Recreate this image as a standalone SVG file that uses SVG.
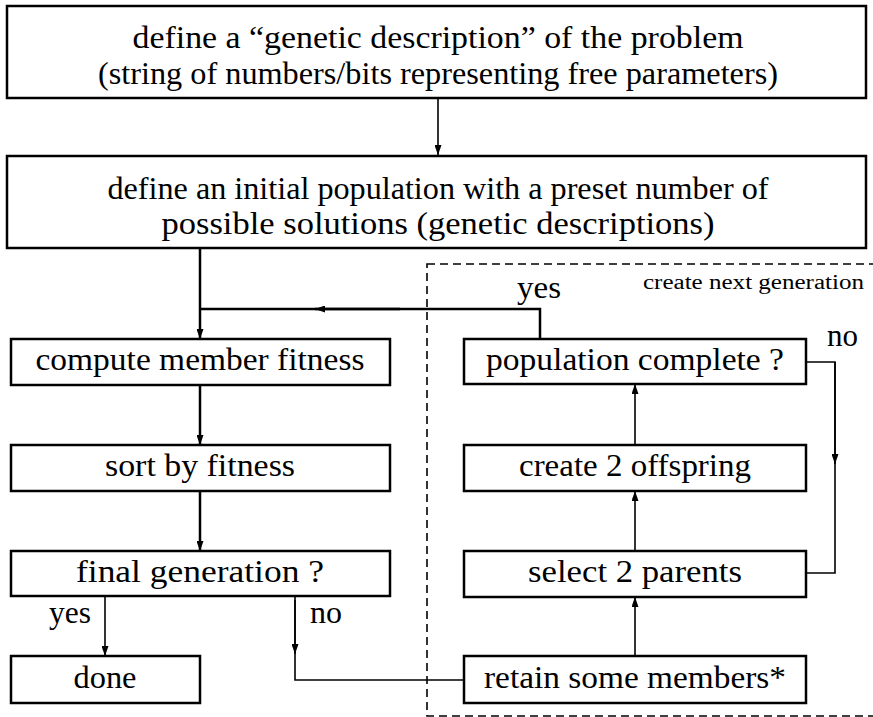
<svg xmlns="http://www.w3.org/2000/svg" width="873" height="717" viewBox="0 0 873 717">
<defs>
<marker id="ah" viewBox="0 0 10 7" refX="10" refY="3.5" markerWidth="10" markerHeight="7" markerUnits="userSpaceOnUse" orient="auto">
<path d="M0,0 L10,3.5 L0,7 z" fill="#000"/>
</marker>
</defs>
<style>
rect.box{fill:#fff;stroke:#000;stroke-width:2.5}
text{font-family:'Liberation Serif','Times New Roman',serif;font-size:31px;fill:#000;text-anchor:middle}
text.lbl{text-anchor:start}
text.small{font-size:20px;text-anchor:start}
.thick{fill:none;stroke:#000;stroke-width:2.5}
.thin{fill:none;stroke:#000;stroke-width:1.6}
.dash{fill:none;stroke:#000;stroke-width:1.6;stroke-dasharray:8 5}
</style>
<g id="region">
<rect class="dash" x="427" y="264" width="460" height="452"/>
<text class="small" x="643" y="289" textLength="221" lengthAdjust="spacingAndGlyphs">create next generation</text>
</g>
<g id="connectors">
<line class="thin" x1="438" y1="98" x2="438" y2="155" marker-end="url(#ah)"/>
<line class="thick" x1="200" y1="248" x2="200" y2="339" marker-end="url(#ah)"/>
<path class="thick" d="M540,339 L540,309 L200,309"/>
<line class="thick" x1="400" y1="309" x2="315" y2="309" marker-end="url(#ah)"/>
<line class="thick" x1="200" y1="385" x2="200" y2="445" marker-end="url(#ah)"/>
<line class="thick" x1="200" y1="491" x2="200" y2="551" marker-end="url(#ah)"/>
<line class="thin" x1="105" y1="596" x2="105" y2="656" marker-end="url(#ah)"/>
<path class="thin" d="M295,596 L295,680 L464,680"/>
<line class="thin" x1="295" y1="600" x2="295" y2="654" marker-end="url(#ah)"/>
<line class="thin" x1="635" y1="656" x2="635" y2="597" marker-end="url(#ah)"/>
<line class="thin" x1="635" y1="551" x2="635" y2="491" marker-end="url(#ah)"/>
<line class="thin" x1="635" y1="445" x2="635" y2="384" marker-end="url(#ah)"/>
<path class="thin" d="M806,362 L835,362 L835,573 L806,573"/>
<line class="thin" x1="835" y1="362" x2="835" y2="464" marker-end="url(#ah)"/>
<text class="lbl" x="517" y="298" textLength="44" lengthAdjust="spacingAndGlyphs">yes</text>
<text class="lbl" x="827" y="346" textLength="31" lengthAdjust="spacingAndGlyphs">no</text>
<text class="lbl" x="49" y="623" textLength="42" lengthAdjust="spacingAndGlyphs">yes</text>
<text class="lbl" x="310" y="623" textLength="32" lengthAdjust="spacingAndGlyphs">no</text>
</g>
<g id="n1">
<rect class="box" x="7" y="6" width="859" height="92"/>
<text x="438" y="48" textLength="611" lengthAdjust="spacingAndGlyphs">define a “genetic description” of the problem</text>
<text x="438" y="84" textLength="680" lengthAdjust="spacingAndGlyphs">(string of numbers/bits representing free parameters)</text>
</g>
<g id="n2">
<rect class="box" x="7" y="156" width="859" height="92"/>
<text x="438" y="199" textLength="661" lengthAdjust="spacingAndGlyphs">define an initial population with a preset number of</text>
<text x="438" y="234" textLength="553" lengthAdjust="spacingAndGlyphs">possible solutions (genetic descriptions)</text>
</g>
<g id="n3">
<rect class="box" x="11" y="339" width="379" height="46"/>
<text x="200" y="370" textLength="329" lengthAdjust="spacingAndGlyphs">compute member fitness</text>
</g>
<g id="n4">
<rect class="box" x="11" y="445" width="379" height="46"/>
<text x="200" y="476" textLength="190" lengthAdjust="spacingAndGlyphs">sort by fitness</text>
</g>
<g id="n5">
<rect class="box" x="11" y="551" width="379" height="45"/>
<text x="200" y="582" textLength="248" lengthAdjust="spacingAndGlyphs">final generation ?</text>
</g>
<g id="n6">
<rect class="box" x="11" y="656" width="189" height="47"/>
<text x="105" y="688" textLength="63" lengthAdjust="spacingAndGlyphs">done</text>
</g>
<g id="n7">
<rect class="box" x="464" y="339" width="342" height="45"/>
<text x="635" y="370" textLength="298" lengthAdjust="spacingAndGlyphs">population complete ?</text>
</g>
<g id="n8">
<rect class="box" x="464" y="445" width="342" height="46"/>
<text x="635" y="476" textLength="232" lengthAdjust="spacingAndGlyphs">create 2 offspring</text>
</g>
<g id="n9">
<rect class="box" x="464" y="551" width="342" height="46"/>
<text x="635" y="582" textLength="214" lengthAdjust="spacingAndGlyphs">select 2 parents</text>
</g>
<g id="n10">
<rect class="box" x="464" y="656" width="342" height="47"/>
<text x="635" y="688" textLength="302" lengthAdjust="spacingAndGlyphs">retain some members*</text>
</g>
</svg>
